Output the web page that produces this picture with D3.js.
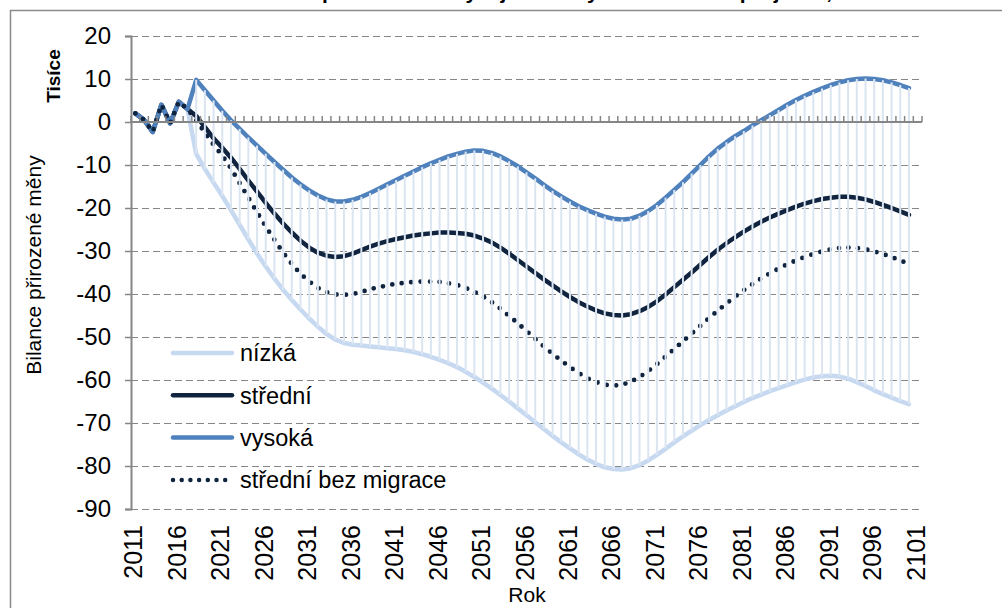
<!DOCTYPE html>
<html>
<head>
<meta charset="utf-8">
<script src="https://cdn.jsdelivr.net/npm/d3@7"></script>
<style>
body { margin: 0; background: #fff; }
svg { display: block; font-family: "Liberation Sans", Arial, sans-serif; }
</style>
</head>
<body>
<svg id="chart" width="1002" height="608"></svg>
<script>
// categories (2101 has a label but no data)
var years = d3.range(2011, 2102);
var labelYears = d3.range(2011, 2102, 5);
var yTicks = d3.range(-90, 21, 10);

// tisíce, 2011-2017 skutečnost (stejné pro všechny varianty)
var pastValues = [2.0, 0.5, -2.3, 4.0, -0.3, 4.7, 3.0];

// 2018-2100
var nizka = [
	-7.4, -10.9, -14.1, -17.2, -20.5, -23.9, -27.3, -30.6, -33.6, -36.4,
	-39.0, -41.4, -43.6, -45.7, -47.6, -49.3, -50.6, -51.4, -51.8, -52.0,
	-52.2, -52.4, -52.6, -52.8, -53.1, -53.5, -54.0, -54.6, -55.3, -56.1,
	-57.0, -58.1, -59.3, -60.6, -62.0, -63.5, -65.0, -66.6, -68.2, -69.8,
	-71.4, -73.0, -74.5, -75.9, -77.3, -78.5, -79.5, -80.3, -80.7, -80.8,
	-80.5, -79.8, -78.7, -77.4, -76.0, -74.5, -73.1, -71.8, -70.5, -69.3,
	-68.2, -67.1, -66.1, -65.1, -64.2, -63.4, -62.6, -61.9, -61.2, -60.5,
	-59.9, -59.4, -59.1, -59.0, -59.2, -59.7, -60.5, -61.4, -62.4, -63.3,
	-64.1, -64.9, -65.6
];
var stredni = [
	1.4, -1.2, -3.8, -6.0, -8.3, -10.9, -13.6, -16.2, -18.8, -21.3,
	-23.6, -25.7, -27.6, -29.2, -30.4, -31.1, -31.4, -31.2, -30.6, -29.8,
	-29.0, -28.3, -27.7, -27.2, -26.8, -26.4, -26.1, -25.9, -25.7, -25.7,
	-25.8, -26.0, -26.4, -27.1, -28.0, -29.2, -30.6, -32.1, -33.6, -35.1,
	-36.6, -38.0, -39.4, -40.7, -41.9, -42.9, -43.8, -44.5, -44.9, -45.0,
	-44.7, -44.0, -43.0, -41.7, -40.1, -38.4, -36.7, -35.0, -33.2, -31.4,
	-29.7, -28.2, -26.8, -25.5, -24.3, -23.2, -22.2, -21.3, -20.5, -19.7,
	-19.0, -18.4, -17.9, -17.6, -17.4, -17.4, -17.6, -18.0, -18.6, -19.3,
	-20.0, -20.8, -21.6
];
var vysoka = [
	9.8, 7.4, 5.0, 2.6, 0.4, -1.6, -3.6, -5.5, -7.4, -9.3,
	-11.1, -12.9, -14.5, -15.9, -17.1, -18.0, -18.5, -18.5, -18.1, -17.4,
	-16.5, -15.5, -14.5, -13.5, -12.5, -11.5, -10.5, -9.6, -8.8, -8.0,
	-7.4, -6.9, -6.6, -6.7, -7.2, -8.0, -9.1, -10.3, -11.7, -13.1,
	-14.6, -16.0, -17.3, -18.5, -19.6, -20.5, -21.3, -22.0, -22.5, -22.7,
	-22.5, -21.8, -20.7, -19.3, -17.6, -15.8, -14.0, -12.0, -10.0, -8.0,
	-6.2, -4.7, -3.3, -2.1, -0.8, 0.4, 1.6, 2.8, 4.0, 5.1,
	6.1, 7.0, 7.8, 8.6, 9.2, 9.7, 10.0, 10.1, 10.0, 9.7,
	9.2, 8.6, 7.9
];
var bezMigrace = [
	0.4, -2.5, -5.3, -7.8, -10.8, -14.2, -17.6, -21.0, -24.3, -27.4,
	-30.4, -33.0, -35.3, -37.1, -38.6, -39.6, -40.1, -40.2, -40.0, -39.5,
	-38.9, -38.4, -38.0, -37.6, -37.4, -37.2, -37.1, -37.1, -37.2, -37.5,
	-37.9, -38.6, -39.5, -40.6, -41.9, -43.4, -45.1, -46.8, -48.6, -50.4,
	-52.2, -53.9, -55.5, -57.0, -58.4, -59.6, -60.5, -61.1, -61.3, -61.1,
	-60.4, -59.3, -57.9, -56.3, -54.6, -52.8, -51.0, -49.2, -47.4, -45.6,
	-43.9, -42.2, -40.6, -39.1, -37.7, -36.4, -35.2, -34.1, -33.1, -32.2,
	-31.4, -30.7, -30.1, -29.6, -29.3, -29.2, -29.3, -29.6, -30.1, -30.7,
	-31.4, -32.2, -33.0
];

var names = ['nízká', 'střední', 'vysoká', 'střední bez migrace'];

var series = [
	{ name: names[0], values: pastValues.concat(nizka), color: '#c6d9f1', dash: null },
	{ name: names[1], values: pastValues.concat(stredni), color: '#10243f', dash: null },
	{ name: names[2], values: pastValues.concat(vysoka), color: '#4f81bd', dash: null },
	{ name: names[3], values: pastValues.concat(bezMigrace), color: '#10243f', dash: '0 9.5' }
];

var svg = d3.select('#chart');
var pLeft = 131, pRight = 922, pTop = 36, pBottom = 509;

var x = d3.scaleBand().domain(years).range([pLeft, pRight]).padding(0);
var y = d3.scaleLinear().domain([-90, 20]).range([pBottom, pTop]);
var cx = function (yr) { return x(yr) + x.bandwidth() / 2; };

// frame
svg.append('rect')
	.attr('x', 10.5).attr('y', 10.5)
	.attr('width', 1010).attr('height', 620)
	.attr('fill', 'none')
	.attr('stroke', '#8a8a8a')
	.attr('stroke-width', 1.5);

// title, cut off at the top like in the source picture
svg.append('text')
	.attr('x', 168).attr('y', -1)
	.style('font-size', '21px')
	.style('font-weight', 'bold')
	.text('Graf 6: Bilance přirozené měny v jednotlivých variantách projekce, 2011–2100');

// gridlines
svg.append('g')
	.attr('transform', 'translate(' + pLeft + ',0)')
	.call(d3.axisLeft(y).tickValues(yTicks).tickSize(-(pRight - pLeft)).tickFormat(''))
	.call(function (g) {
		g.select('.domain').remove();
		g.selectAll('line')
			.attr('stroke', '#868686')
			.attr('stroke-dasharray', '7,4');
	});

// series
var line = d3.line()
	.x(function (d, i) { return cx(years[i]); })
	.y(function (d) { return y(d); });

series.forEach(function (s) {
	var p = svg.append('path')
		.datum(s.values)
		.attr('d', line)
		.attr('fill', 'none')
		.attr('stroke', s.color)
		.attr('stroke-width', 4.5)
		.attr('stroke-linejoin', 'round')
		.attr('stroke-linecap', 'round');
	if (s.dash) p.attr('stroke-dasharray', s.dash).attr('stroke-width', 4.8);
});

// high-low lines
var hl = [];
for (var i = 0; i < pastValues.length + nizka.length; i++) {
	var vals = series.map(function (s) { return s.values[i]; });
	hl.push({ year: years[i], hi: d3.max(vals), lo: d3.min(vals) });
}
svg.append('g').selectAll('line')
	.data(hl.filter(function (d) { return d.hi > d.lo; }))
	.enter().append('line')
	.attr('x1', function (d) { return cx(d.year); })
	.attr('x2', function (d) { return cx(d.year); })
	.attr('y1', function (d) { return y(d.hi); })
	.attr('y2', function (d) { return y(d.lo); })
	.attr('stroke', '#dbe5f1')
	.attr('stroke-width', 2);

// category axis at 0
var bounds = years.map(function (yr) { return x(yr); }).concat([pRight]);
svg.append('line')
	.attr('x1', pLeft).attr('x2', pRight)
	.attr('y1', y(0)).attr('y2', y(0))
	.attr('stroke', '#868686').attr('stroke-width', 2);
svg.append('g').selectAll('line')
	.data(bounds)
	.enter().append('line')
	.attr('x1', function (d) { return d; })
	.attr('x2', function (d) { return d; })
	.attr('y1', y(0) - 6).attr('y2', y(0))
	.attr('stroke', '#868686').attr('stroke-width', 1.5);

// value axis (plain hyphen for minus, like the source)
svg.append('g')
	.attr('transform', 'translate(' + pLeft + ',0)')
	.call(d3.axisLeft(y).tickValues(yTicks).tickSize(6).tickPadding(14)
		.tickFormat(function (d) { return String(d); }))
	.call(function (g) {
		g.select('.domain').attr('stroke', '#868686').attr('stroke-width', 2);
		g.selectAll('.tick line').attr('stroke', '#868686').attr('stroke-width', 1.5);
		g.selectAll('.tick text')
			.attr('fill', '#000')
			.style('font-size', '24px')
			.style('font-family', '"Liberation Sans", Arial, sans-serif');
	});

// year labels
svg.append('g').selectAll('text')
	.data(labelYears)
	.enter().append('text')
	.attr('transform', function (d) {
		return 'translate(' + (cx(d) + 7) + ',525) rotate(-90)';
	})
	.attr('text-anchor', 'end')
	.style('font-size', '25px')
	.text(function (d) { return d; });

// axis titles
svg.append('text')
	.attr('transform', 'translate(' + 527 + ',602)')
	.attr('text-anchor', 'middle')
	.style('font-size', '21px')
	.text('Rok');

svg.append('text')
	.attr('transform', 'translate(41,265) rotate(-90)')
	.attr('text-anchor', 'middle')
	.style('font-size', '21px')
	.text('Bilance přirozené měny');

svg.append('text')
	.attr('transform', 'translate(60,76) rotate(-90)')
	.attr('text-anchor', 'middle')
	.style('font-size', '19px')
	.style('font-weight', 'bold')
	.text('Tisíce');

// legend
var legend = svg.append('g').selectAll('g')
	.data(series)
	.enter().append('g')
	.attr('transform', function (d, i) { return 'translate(0,' + (353 + i * 42.3) + ')'; });

legend.append('line')
	.attr('x1', 173).attr('x2', function (d) { return d.dash ? 226 : 232; })
	.attr('y1', 0).attr('y2', 0)
	.attr('stroke', function (d) { return d.color; })
	.attr('stroke-width', 4.5)
	.attr('stroke-linecap', 'round')
	.attr('stroke-dasharray', function (d) { return d.dash ? '0 8.7' : null; });

legend.append('text')
	.attr('x', 240).attr('y', 0).attr('dy', '0.36em')
	.style('font-size', '23.5px')
	.text(function (d) { return d.name; });
</script>
</body>
</html>
